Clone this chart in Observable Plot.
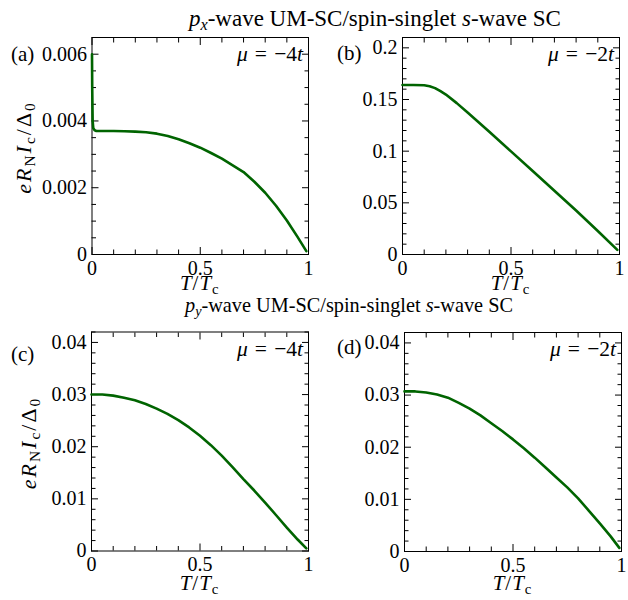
<!DOCTYPE html>
<html><head><meta charset="utf-8">
<script src="https://cdn.jsdelivr.net/npm/d3@7"></script>
<script src="https://cdn.jsdelivr.net/npm/@observablehq/plot@0.6"></script>
<style>
body{margin:0;background:#fff;}
#fig{position:relative;width:628px;height:600px;background:#fff;}
#fig svg{position:absolute;overflow:visible;}
#fig svg text{font-family:"Liberation Serif","Times New Roman",serif;}
</style></head><body><div id="fig"></div>
<script>
// ---------- data ----------
const xTicks = [0, 0.5, 1];
const xTickLabels = ["0", "0.5", "1"];
const xMinor = [0.1, 0.2, 0.3, 0.4, 0.6, 0.7, 0.8, 0.9];

// (a) px-wave, mu = -4t
const tA = [0, 0.001, 0.003, 0.006, 0.012, 0.02, 0.05, 0.1, 0.15, 0.2, 0.25, 0.3, 0.35, 0.4, 0.45, 0.5, 0.55, 0.6, 0.65, 0.7, 0.75, 0.8, 0.85, 0.9, 0.95, 0.99];
const icA = [0.0060, 0.0050, 0.0040, 0.00378, 0.00372, 0.00370, 0.00370, 0.00370, 0.00369, 0.00368, 0.00366, 0.00362, 0.00355, 0.00345, 0.00333, 0.00320, 0.00304, 0.00287, 0.00267, 0.00247, 0.00218, 0.00185, 0.00146, 0.00102, 0.00052, 0.00010];
const yTicksA = [0, 0.002, 0.004, 0.006];
const yTickLabelsA = ["0", "0.002", "0.004", "0.006"];
const yMinorA = [0.0005, 0.001, 0.0015, 0.0025, 0.003, 0.0035, 0.0045, 0.005, 0.0055, 0.0065];

// (b) px-wave, mu = -2t
const tB = [0, 0.05, 0.1, 0.125, 0.15, 0.175, 0.2, 0.25, 0.3, 0.4, 0.5, 0.6, 0.7, 0.8, 0.9, 0.99];
const icB = [0.164, 0.164, 0.1638, 0.1628, 0.161, 0.158, 0.1548, 0.1465, 0.1375, 0.1188, 0.0998, 0.0808, 0.0617, 0.0425, 0.0228, 0.0045];
const yTicksB = [0, 0.05, 0.1, 0.15, 0.2];
const yTickLabelsB = ["0", "0.05", "0.1", "0.15", "0.2"];
const yMinorB = [0.01, 0.02, 0.03, 0.04, 0.06, 0.07, 0.08, 0.09, 0.11, 0.12, 0.13, 0.14, 0.16, 0.17, 0.18, 0.19, 0.21];

// (c) py-wave, mu = -4t
const tC = [0, 0.05, 0.1, 0.15, 0.2, 0.25, 0.3, 0.35, 0.4, 0.45, 0.5, 0.55, 0.6, 0.65, 0.7, 0.75, 0.8, 0.85, 0.9, 0.95, 0.99];
const icC = [0.0300, 0.0300, 0.0298, 0.0294, 0.0289, 0.0282, 0.0273, 0.0263, 0.0251, 0.0237, 0.0221, 0.0203, 0.0183, 0.0161, 0.0138, 0.0116, 0.0093, 0.0069, 0.0045, 0.0022, 0.0005];

// (d) py-wave, mu = -2t
const tD = [0, 0.05, 0.1, 0.15, 0.2, 0.25, 0.3, 0.35, 0.4, 0.45, 0.5, 0.55, 0.6, 0.65, 0.7, 0.75, 0.8, 0.85, 0.9, 0.95, 0.99];
const icD = [0.0307, 0.0307, 0.0305, 0.0301, 0.0295, 0.0285, 0.0274, 0.0261, 0.0246, 0.0231, 0.0215, 0.0198, 0.0180, 0.0161, 0.0142, 0.0123, 0.0102, 0.0078, 0.0054, 0.0029, 0.0007];

const yTicksCD = [0, 0.01, 0.02, 0.03, 0.04];
const yTickLabelsCD = ["0", "0.01", "0.02", "0.03", "0.04"];
const yMinorCD = [0.002, 0.004, 0.006, 0.008, 0.012, 0.014, 0.016, 0.018, 0.022, 0.024, 0.026, 0.028, 0.032, 0.034, 0.036, 0.038, 0.042];

const panelLetters = ["(a)", "(b)", "(c)", "(d)"];
const muLabels = ["\u22124", "\u22122", "\u22124", "\u22122"];
const titles = ["x", "y"];

// ---------- layout ----------
const FONT = '"Liberation Serif", "Times New Roman", serif';
const GREEN = "#006400";
const fig = document.getElementById("fig");

const panels = [
  {t: tA, ic: icA, yDomain: [0, 0.0065], yTicks: yTicksA, yLabels: yTickLabelsA, yMinor: yMinorA, left: 0, top: 0, mL: 91.5, mR: 6, mT: 37, mB: 46},
  {t: tB, ic: icB, yDomain: [0, 0.21], yTicks: yTicksB, yLabels: yTickLabelsB, yMinor: yMinorB, left: 314, top: 0, mL: 88, mR: 9, mT: 37, mB: 46},
  {t: tC, ic: icC, yDomain: [0, 0.042], yTicks: yTicksCD, yLabels: yTickLabelsCD, yMinor: yMinorCD, left: 0, top: 300, mL: 91, mR: 6, mT: 31.5, mB: 49.5},
  {t: tD, ic: icD, yDomain: [0, 0.042], yTicks: yTicksCD, yLabels: yTickLabelsCD, yMinor: yMinorCD, left: 314, top: 300, mL: 90, mR: 7, mT: 32, mB: 49}
];

const fmt = (ticks, labels) => d => labels[ticks.indexOf(d)];

panels.forEach(cfg => {
  const data = cfg.t.map((T, i) => ({T, I: cfg.ic[i]}));
  const tk = (ticks, anchor, size) => (anchor === "bottom" || anchor === "top")
    ? Plot.axisX(ticks, {anchor, tickSize: size, fill: null, label: null, stroke: "#000", strokeWidth: 1})
    : Plot.axisY(ticks, {anchor, tickSize: size, fill: null, label: null, stroke: "#000", strokeWidth: 1});
  const svg = Plot.plot({
    width: 314, height: 300,
    marginLeft: cfg.mL, marginRight: cfg.mR, marginTop: cfg.mT, marginBottom: cfg.mB,
    style: {fontFamily: FONT, fontSize: "20px", color: "#000", background: "transparent", overflow: "visible"},
    x: {domain: [0, 1]},
    y: {domain: cfg.yDomain},
    marks: [
      Plot.frame({stroke: "#000", strokeWidth: 1}),
      Plot.axisX(xTicks, {anchor: "bottom", tickSize: 0, tickPadding: 6, tickFormat: fmt(xTicks, xTickLabels), label: null, fill: "#000", fontFamily: FONT, fontSize: 20, fontVariant: "normal"}),
      Plot.axisY(cfg.yTicks, {anchor: "left", tickSize: 0, tickPadding: 5, tickFormat: fmt(cfg.yTicks, cfg.yLabels), label: null, fill: "#000", fontFamily: FONT, fontSize: 20, fontVariant: "normal"}),
      tk(xTicks, "bottom", -7), tk(xTicks, "top", -7),
      tk(xMinor, "bottom", -4.5), tk(xMinor, "top", -4.5),
      tk(cfg.yTicks, "left", -7), tk(cfg.yTicks, "right", -7),
      tk(cfg.yMinor, "left", -4.5), tk(cfg.yMinor, "right", -4.5),
      Plot.line(data, {x: "T", y: "I", stroke: GREEN, strokeWidth: 2.6, strokeLinejoin: "round"})
    ]
  });
  svg.style.left = cfg.left + "px";
  svg.style.top = cfg.top + "px";
  fig.appendChild(svg);
});

// ---------- text overlay ----------
const ov = d3.create("svg").attr("width", 628).attr("height", 600)
  .style("left", "0px").style("top", "0px")
  .attr("font-family", FONT).attr("fill", "#000");
fig.appendChild(ov.node());

function rich(x, y, parts, fs, anchor, rotate, spacing) {
  const g = ov.append("text").attr("font-size", fs).attr("text-anchor", anchor || "start");
  if (spacing) g.attr("letter-spacing", spacing);
  if (rotate) g.attr("transform", `translate(${x},${y}) rotate(${rotate})`);
  else g.attr("x", x).attr("y", y);
  let shifted = 0;
  for (const p of parts) {
    const target = p.sub ? fs * 0.18 : 0;
    const ts = g.append("tspan").text(p.t);
    if (target !== shifted) { ts.attr("dy", target - shifted); shifted = target; }
    if (p.sub) ts.attr("font-size", fs * 0.7);
    if (p.i) ts.attr("font-style", "italic");
  }
  return g;
}

// titles
const titleSpec = [{x: 375, y: 26, fs: 23}, {x: 349, y: 312, fs: 20.3}];
titleSpec.forEach((s, k) => rich(s.x, s.y, [
  {t: "p", i: true}, {t: titles[k], i: true, sub: true}, {t: "-wave UM-SC/spin-singlet "},
  {t: "s", i: true}, {t: "-wave SC"}
], s.fs, "middle"));

// axis labels, panel letters, mu annotations
const yLab = [{t: "e", i: true}, {t: "R", i: true}, {t: "N", sub: true}, {t: "I", i: true}, {t: "c", sub: true}, {t: "/\u0394"}, {t: "0", sub: true}];
const xLab = [{t: "T", i: true}, {t: "/"}, {t: "T", i: true}, {t: "c", sub: true}];
const letterPos = [[11, 61], [337, 60], [11, 361], [337, 354]];
const xLabBase = [290, 290, 590, 590];

panels.forEach((cfg, k) => {
  const fl = cfg.left + cfg.mL, fr = cfg.left + 314 - cfg.mR;
  const ft = cfg.top + cfg.mT, fb = cfg.top + 300 - cfg.mB;
  rich((fl + fr) / 2, xLabBase[k], xLab, 21, "middle", 0, 1);
  if (k % 2 === 0) rich(k === 0 ? 31 : 36, (ft + fb) / 2 + 2, yLab, 22, "middle", -90, 2);
  rich(letterPos[k][0], letterPos[k][1], [{t: panelLetters[k]}], 21, "start");
  rich(fr - 5, ft + 24, [{t: "\u03bc", i: true}, {t: "\u2004=\u2004" + muLabels[k]}, {t: "t", i: true}], 21.5, "end");
});
</script></body></html>
